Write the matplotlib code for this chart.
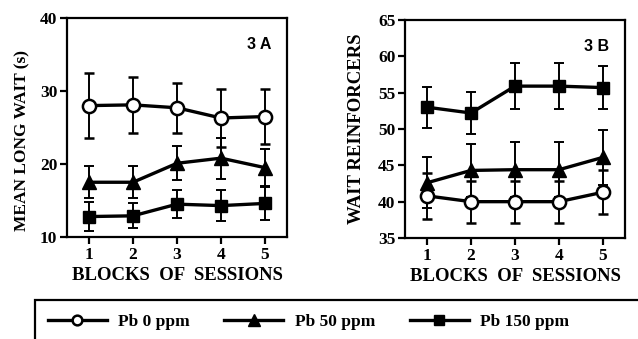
import matplotlib
matplotlib.use("Agg")
import matplotlib.pyplot as plt
from matplotlib.lines import Line2D
from matplotlib.patches import Rectangle

blocks = [1, 2, 3, 4, 5]

# panel 3A - mean long wait (s)
wait_pb0 = [28.0, 28.1, 27.7, 26.3, 26.5]
wait_pb0_err = [4.4, 3.8, 3.4, 4.0, 3.8]
wait_pb50 = [17.5, 17.5, 20.1, 20.8, 19.5]
wait_pb50_err = [2.2, 2.2, 2.3, 2.8, 2.5]
wait_pb150 = [12.8, 12.9, 14.5, 14.3, 14.6]
wait_pb150_err = [2.0, 1.7, 1.9, 2.1, 2.3]

# panel 3B - wait reinforcers
reinf_pb0 = [40.8, 40.0, 40.0, 40.0, 41.3]
reinf_pb0_err = [3.2, 2.9, 2.9, 2.9, 3.0]
reinf_pb50 = [42.6, 44.3, 44.4, 44.4, 46.1]
reinf_pb50_err = [3.5, 3.7, 3.8, 3.8, 3.8]
reinf_pb150 = [53.0, 52.2, 55.9, 55.9, 55.7]
reinf_pb150_err = [2.8, 2.9, 3.2, 3.2, 3.0]

labels = ["Pb 0 ppm", "Pb 50 ppm", "Pb 150 ppm"]

serif = "Liberation Serif"
plt.rcParams["font.family"] = serif
plt.rcParams["font.weight"] = "bold"

fig = plt.figure(figsize=(6.38, 3.39), dpi=100)
axA = fig.add_axes([67/638, 1-237/339, 220/638, 219/339])
axB = fig.add_axes([405/638, 1-238/339, 220/638, 218/339])

styles = [
    dict(marker="o", mfc="white", mec="black", ms=9.5, mew=1.8),
    dict(marker="^", mfc="black", mec="black", ms=10),
    dict(marker="s", mfc="black", mec="black", ms=8.5),
]

def panel(ax, series, ylim, yticks, ylabel, ysize, ypad, ypos, tag):
    for (y, e), st in zip(series, styles):
        ax.errorbar(blocks, y, yerr=e, color="black", lw=2.4, elinewidth=1.4,
                    capsize=3.5, capthick=1.4, **st)
    ax.set_xlim(0.5, 5.5)
    ax.set_ylim(*ylim)
    ax.set_xticks(blocks)
    ax.set_yticks(yticks)
    for s in ax.spines.values():
        s.set_linewidth(1.6)
    ax.tick_params(direction="out", length=5, width=1.6, labelsize=12.5, pad=2)
    ax.set_xlabel("BLOCKS  OF  SESSIONS", fontsize=13.5, fontweight="bold", labelpad=3)
    ax.set_ylabel(ylabel, fontsize=ysize, fontweight="bold", labelpad=ypad, y=ypos)
    ax.text(0.93, 0.88, tag, transform=ax.transAxes, ha="right", va="center",
            fontsize=11.5, fontweight="bold", family="Liberation Sans")

panel(axA, [(wait_pb0, wait_pb0_err), (wait_pb50, wait_pb50_err), (wait_pb150, wait_pb150_err)],
      (10, 40), [10, 20, 30, 40], "MEAN LONG WAIT (s)", 12.5, 6.5, 0.44, "3 A")
panel(axB, [(reinf_pb0, reinf_pb0_err), (reinf_pb50, reinf_pb50_err), (reinf_pb150, reinf_pb150_err)],
      (35, 65), [35, 40, 45, 50, 55, 60, 65], "WAIT REINFORCERS", 13.5, 9, 0.5, "3 B")

# legend box running off the page
fig.patches.append(Rectangle((35/638, -0.2), 1.0, 0.2 + 1-300/339, transform=fig.transFigure,
                             fill=False, lw=1.6, ec="black"))
handles = [Line2D([], [], color="black", lw=2.4, **st) for st in styles]
handles[0].set_markersize(7)
handles[1].set_markersize(8)
handles[2].set_markersize(6.5)
fig.legend(handles, labels, ncol=3, frameon=False, loc="center left",
           bbox_to_anchor=(32/638, 1-322/339), handlelength=3.4, columnspacing=2.0,
           handletextpad=0.65, prop=dict(family=serif, weight="bold", size=12.5))

fig.savefig("out.png", dpi=100)
